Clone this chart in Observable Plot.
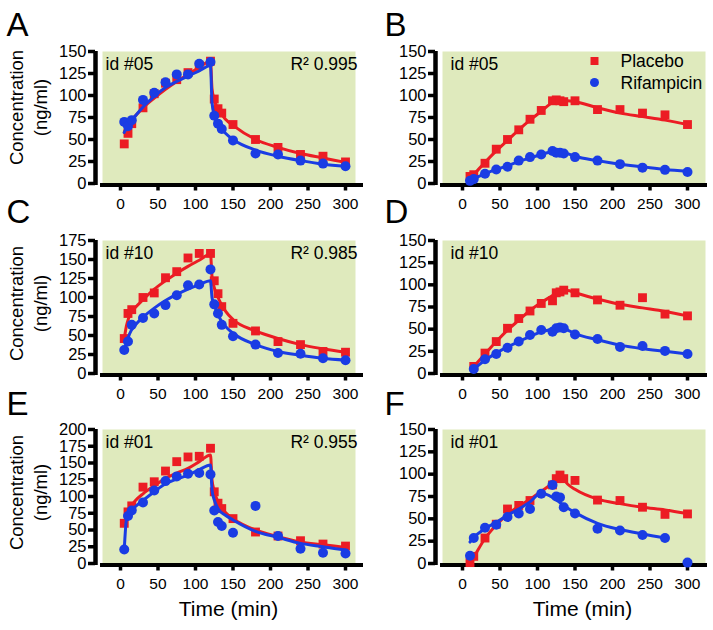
<!DOCTYPE html>
<html><head><meta charset="utf-8">
<script src="https://cdn.jsdelivr.net/npm/d3@7"></script>
<script src="https://cdn.jsdelivr.net/npm/@observablehq/plot@0.6"></script>
<style>
body{margin:0;background:#fff;}
#chart{position:relative;width:713px;height:630px;background:#fff;overflow:hidden;font-family:"Liberation Sans",Arial,sans-serif;}
#chart svg{position:absolute;}
</style></head><body><div id="chart"></div>
<script>
// ---------- data ----------
const infusionTimes = [5,10,15,30,45,60,75,90,105,120,125,130,135,150,180,210,240,270,300];
const oralTimes = [10,15,30,45,60,75,90,105,120,125,130,135,150,180,210,240,270,300];
const infusionFitTimes = [5,8,12,20,30,45,60,75,90,105,120,122,125,130,140,150,180,210,240,270,300];
const oralFitTimes = [10,15,30,45,60,75,90,105,120,130,140,150,180,210,240,270,300];

// Panel A (id #05, infusion)
const aPlacebo = [45,57,68,86,102,114,118,126,134,139,96,85,80,67,50,41,33,31,24.5];
const aRif = [70,65,72,95,103,115,124,124,136,138,77,68,62,49,34,33,26,22.6,19.6];
const aPlaceboFit = [58,64,69,77,86,97,107,116,124,132,139,108,95,85,73,66,50,41,34,29,24];
const aRifFit = [58,63,68,77,87,99,109,116,122,128,134,92,78,68,57,50,38,31,26,22,19.5];
// Panel B (id #05, oral)
const bPlacebo = [8,10,23,39,50,61,73,83,94,95,94,93,94,84,84,80,78,67];
const bRif = [3,5,11,16,19,26,30,33,37,35,35,34,30,26,22,18,15.5,13];
const bPlaceboFit = [5,10,24,37,49,61,72,82,92,95,94,93,86,80,76,72,67];
const bRifFit = [2,5,11,16,20,25,29,33,36,36.5,34,31,26,22,19,16,14];
// Panel C (id #10, infusion)
const cPlacebo = [46,79,84,100,106,126,134,152,158,158,122,105,88,66,56,42,38,29,28];
const cRif = [31,42,64,73,79,90,103,116,117,137,91,79,64,49,38,27,26,20,17.5];
const cPlaceboFit = [46,63,76,87,97,111,122,132,141,149,157,128,113,100,82,71,56,46,38,32.5,28];
const cRifFit = [29,40,52,64,74,86,96,104,111,117,122,100,90,77,62,53,38,29,24,20,17.5];
// Panel D (id #10, oral)
const dPlacebo = [null,8,23,36,51,62,70.5,79,82,91,92,94,91,83,77,85.5,67,65];
const dRif = [null,5,16,22,29,36,43.5,49,47,51,52,51,44,39,30,31,25.5,22];
const dPlaceboFit = [null,8,22,36,49,60,71,80,88,93.5,93.5,91,84,78,74,70,65];
const dRifFit = [null,5,15,23,30,36,42,47,50,51,49,45,38,32,28,25,22];
// Panel E (id #01, infusion)
const ePlacebo = [60,77,86,114,122,138,152,159,160,172,107,90,82,67,47,41,34,29,26];
const eRif = [21,71,79,91,109,123,130,134,135,133,79,62,56,46,86,41,22,16,15];
const ePlaceboFit = [60,71,82,94,104,116,127,135,142,152,162,125,108,92,76,67,50,40,32,28,24];
const eRifFit = [21,66,75,85,94,107,119,126,132,140,147,110,95,82,72,65,48,39,30,25,20];
// Panel F (id #01, oral)
const fPlacebo = [1,8,28.5,44,61,65,70.5,null,88,95,99,95,93,71,70.5,63,55,55.5];
const fRif = [8.6,28.5,40,43.5,52,56,61,78,88,75,74,63,56,39,37,32,28.5,1];
const fPlaceboFit = [0,7,28,43,55,64,72,81,90,99,89,83,72,67,63,60,56];
const fRifFit = [24,29,39,46,54,61,69,79,74,68,62,57,45,38,33,28.5,null];

const xTicks = [0,50,100,150,200,250,300];
const yTicks150 = [0,25,50,75,100,125,150];
const yTicks175 = [0,25,50,75,100,125,150,175];
const yTicks200 = [0,25,50,75,100,125,150,175,200];
const seriesNames = ["Placebo","Rifampicin"];
const yLabel = "Concentration\n(ng/ml)";
const xLabel = "Time (min)";

// ---------- styling / layout ----------
const RED = "#ec1c24", BLUE = "#1a3ce4", GREEN = "#dfeabd";
const FONT = "Liberation Sans, Arial, sans-serif";
const rows = [
  {top: 0, marginTop: 51, plotHeight: 132, marginBottom: 40, letterDy: -16, yLabelDy: -10},
  {top: 190, marginTop: 50, plotHeight: 133, marginBottom: 40, letterDy: -18, yLabelDy: -3.5},
  {top: 380, marginTop: 49, plotHeight: 134, marginBottom: 67, letterDy: -15, yLabelDy: -4}
];
const cols = {
  left: {left: 0, width: 365, marginLeft: 95, marginRight: 2, domain: [-33.33, 324], insetL: 7, insetR: 8, letterDx: -89, idDx: 10, timeDx: -1},
  right: {left: 365, width: 348, marginLeft: 70, marginRight: 6, domain: [-36, 326.67], insetL: 7, insetR: 2, letterDx: -51, idDx: 15, timeDx: 11}
};

const toPoints = (times, vals) => times.map((t, i) => ({t, v: vals[i]})).filter(d => d.v != null);

const panels = [
  {letter: "A", id: "id #05", r2: "R\u00B2 0.995", row: 0, col: "left", yMax: 150, yTicks: yTicks150,
   times: infusionTimes, fitTimes: infusionFitTimes, p: aPlacebo, r: aRif, pf: aPlaceboFit, rf: aRifFit},
  {letter: "B", id: "id #05", row: 0, col: "right", yMax: 150, yTicks: yTicks150, legend: true,
   times: oralTimes, fitTimes: oralFitTimes, p: bPlacebo, r: bRif, pf: bPlaceboFit, rf: bRifFit},
  {letter: "C", id: "id #10", r2: "R\u00B2 0.985", row: 1, col: "left", yMax: 175, yTicks: yTicks175,
   times: infusionTimes, fitTimes: infusionFitTimes, p: cPlacebo, r: cRif, pf: cPlaceboFit, rf: cRifFit},
  {letter: "D", id: "id #10", row: 1, col: "right", yMax: 150, yTicks: yTicks150,
   times: oralTimes, fitTimes: oralFitTimes, p: dPlacebo, r: dRif, pf: dPlaceboFit, rf: dRifFit},
  {letter: "E", id: "id #01", r2: "R\u00B2 0.955", row: 2, col: "left", yMax: 200, yTicks: yTicks200, xlabel: true,
   times: infusionTimes, fitTimes: infusionFitTimes, p: ePlacebo, r: eRif, pf: ePlaceboFit, rf: eRifFit},
  {letter: "F", id: "id #01", row: 2, col: "right", yMax: 150, yTicks: yTicks150, xlabel: true,
   times: oralTimes, fitTimes: oralFitTimes, p: fPlacebo, r: fRif, pf: fPlaceboFit, rf: fRifFit}
];

const chart = document.getElementById("chart");
for (const pn of panels) {
  const R = rows[pn.row], C = cols[pn.col];
  const isLeft = pn.col === "left";
  const marks = [
    Plot.frame({fill: GREEN, stroke: "none", insetLeft: C.insetL, insetRight: C.insetR}),
    Plot.axisY({ticks: pn.yTicks, tickSize: 7, tickPadding: 2, stroke: "black", strokeWidth: 3.5, fontSize: 16.5, label: null}),
    Plot.axisX({ticks: xTicks, tickSize: 7.5, tickPadding: 7, stroke: "black", strokeWidth: 3.5, fontSize: 15.5, label: null}),
    Plot.ruleX([C.domain[0]], {stroke: "black", strokeWidth: 4.5, insetBottom: -2}),
    Plot.ruleY([0], {stroke: "black", strokeWidth: 4, dy: 1.5, insetLeft: 5}),
    Plot.line(toPoints(pn.fitTimes, pn.pf), {x: "t", y: "v", stroke: RED, strokeWidth: 3, curve: "monotone-x"}),
    Plot.dot(toPoints(pn.times, pn.p), {x: "t", y: "v", symbol: "square", fill: RED, r: 5}),
    Plot.line(toPoints(pn.fitTimes, pn.rf), {x: "t", y: "v", stroke: BLUE, strokeWidth: 3, curve: "monotone-x"}),
    Plot.dot(toPoints(pn.times, pn.r), {x: "t", y: "v", symbol: "circle", fill: BLUE, r: 5}),
    Plot.text([pn.id], {text: d => d, frameAnchor: "top-left", dx: C.idDx, dy: 6, lineAnchor: "top", textAnchor: "start", fontSize: 17.5}),
    Plot.text([pn.letter], {text: d => d, frameAnchor: "top-left", dx: C.letterDx, dy: R.letterDy, lineAnchor: "bottom", textAnchor: "start", fontSize: 33})
  ];
  if (pn.r2) marks.push(Plot.text([pn.r2], {text: d => d, frameAnchor: "top-right", dx: -6, dy: 6, lineAnchor: "top", textAnchor: "end", fontSize: 17.5}));
  if (isLeft) marks.push(Plot.text([yLabel], {text: d => d, frameAnchor: "left", rotate: -90, dx: -68, dy: R.yLabelDy, lineHeight: 1.28, lineAnchor: "middle", textAnchor: "middle", fontSize: 18.5}));
  if (pn.xlabel) marks.push(Plot.text([xLabel], {text: d => d, frameAnchor: "bottom", dx: C.timeDx, dy: 46, lineAnchor: "middle", textAnchor: "middle", fontSize: 21}));
  if (pn.legend) {
    marks.push(
      Plot.dot([seriesNames[0]], {frameAnchor: "top-right", dx: -113, dy: 9.5, symbol: "square", fill: RED, r: 4.5}),
      Plot.dot([seriesNames[1]], {frameAnchor: "top-right", dx: -113, dy: 31, symbol: "circle", fill: BLUE, r: 4.5}),
      Plot.text([seriesNames[0]], {text: d => d, frameAnchor: "top-right", dx: -87, dy: 10, lineAnchor: "middle", textAnchor: "start", fontSize: 17.5}),
      Plot.text([seriesNames[1]], {text: d => d, frameAnchor: "top-right", dx: -87, dy: 31.5, lineAnchor: "middle", textAnchor: "start", fontSize: 17.5})
    );
  }
  const svg = Plot.plot({
    width: C.width,
    height: R.marginTop + R.plotHeight + R.marginBottom,
    marginLeft: C.marginLeft, marginRight: C.marginRight,
    marginTop: R.marginTop, marginBottom: R.marginBottom,
    x: {domain: C.domain},
    y: {domain: [0, pn.yMax]},
    style: {fontFamily: FONT, fontSize: "16px", background: "transparent", color: "black", overflow: "visible"},
    marks
  });
  svg.style.left = C.left + "px";
  svg.style.top = R.top + "px";
  svg.style.position = "absolute";
  chart.appendChild(svg);
}
</script></body></html>
